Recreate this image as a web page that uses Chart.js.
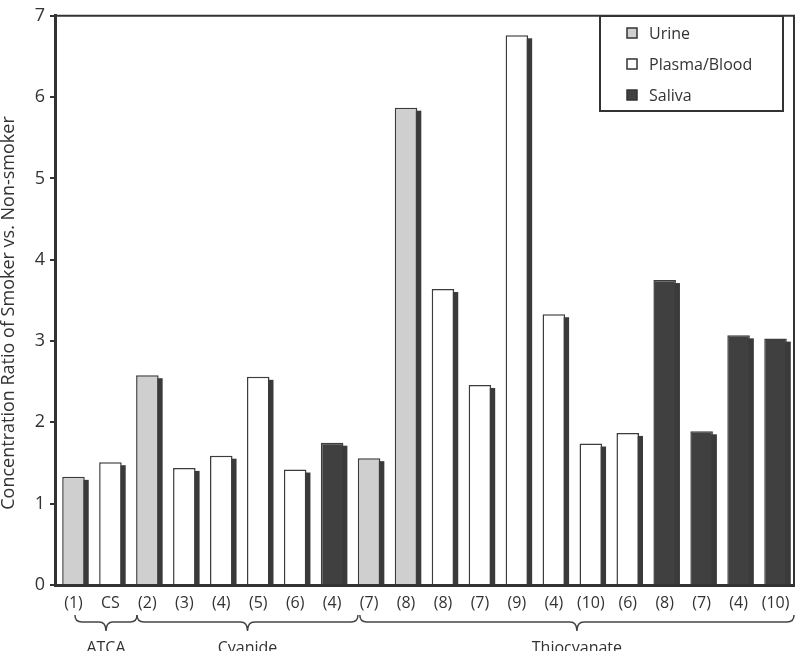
<!DOCTYPE html>
<html>
<head>
<meta charset="utf-8">
<title>Concentration ratio of smoker vs. non-smoker</title>
<script src="https://cdn.jsdelivr.net/npm/chart.js@4.4.1/dist/chart.umd.min.js"></script>
<style>
  html, body { margin: 0; padding: 0; background: #fff; }
  #wrap { width: 800px; height: 651px; position: relative; }
</style>
</head>
<body>
<div id="wrap"><canvas id="ratioChart"></canvas></div>
<script>
// reference numbers under each bar
const categories = ['(1)', 'CS', '(2)', '(3)', '(4)', '(5)', '(6)', '(4)', '(7)', '(8)',
                    '(8)', '(7)', '(9)', '(4)', '(10)', '(6)', '(8)', '(7)', '(4)', '(10)'];

// one value per bar, null where the bar belongs to another matrix
const urine       = [1.33, null, 2.58, null, null, null, null, null, 1.56, 5.87,
                     null, null, null, null, null, null, null, null, null, null];
const plasmaBlood = [null, 1.51, null, 1.44, 1.59, 2.56, 1.42, null, null, null,
                     3.64, 2.46, 6.76, 3.33, 1.74, 1.87, null, null, null, null];
const saliva      = [null, null, null, null, null, null, null, 1.75, null, null,
                     null, null, null, null, null, null, 3.75, 1.89, 3.07, 3.03];

const yTicks = [0, 1, 2, 3, 4, 5, 6, 7];

const groupNames = ['ATCA', 'Cyanide', 'Thiocyanate'];

const FONT = 'Open Sans';
const INK = '#333333';

// dark drop shadow to the right of every bar
const barShadow = {
  id: 'barShadow',
  beforeDatasetsDraw(chart) {
    const { ctx, chartArea } = chart;
    ctx.save();
    ctx.beginPath();
    ctx.rect(chartArea.left, chartArea.top, chartArea.width, chartArea.height);
    ctx.clip();
    ctx.fillStyle = '#3a3a3a';
    chart.data.datasets.forEach((ds, i) => {
      chart.getDatasetMeta(i).data.forEach((bar, j) => {
        if (ds.data[j] == null) return;
        const p = bar.getProps(['x', 'y', 'base', 'width'], true);
        ctx.fillRect(p.x - p.width / 2 + 4, p.y + 3, p.width, p.base - p.y - 3);
      });
    });
    ctx.restore();
  }
};

// top and right edge of the frame, y title, legend box, group braces
const extras = {
  id: 'extras',
  afterDraw(chart, args, opts) {
    const { ctx, chartArea } = chart;
    const x = chart.scales.x;
    const step = x.getPixelForValue(1) - x.getPixelForValue(0);
    const at = v => x.getPixelForValue(0) + v * step;

    ctx.save();
    ctx.strokeStyle = INK;
    ctx.lineWidth = 2;
    ctx.beginPath();
    ctx.moveTo(chartArea.left, chartArea.top);
    ctx.lineTo(chartArea.right, chartArea.top);
    ctx.lineTo(chartArea.right, chartArea.bottom);
    ctx.stroke();

    // axis title
    ctx.save();
    ctx.translate(opts.titleX, opts.titleY);
    ctx.rotate(-Math.PI / 2);
    ctx.fillStyle = INK;
    ctx.font = '18px "' + FONT + '"';
    ctx.textAlign = 'center';
    ctx.textBaseline = 'middle';
    ctx.fillText('Concentration Ratio of Smoker vs. Non-smoker', 0, 0);
    ctx.restore();

    // legend
    const lg = opts.legend;
    ctx.lineWidth = 2;
    ctx.strokeStyle = INK;
    ctx.strokeRect(lg.x, lg.y, lg.w, lg.h);
    ctx.font = '16px "' + FONT + '"';
    ctx.textAlign = 'left';
    ctx.textBaseline = 'middle';
    chart.data.datasets.forEach((ds, i) => {
      const cy = lg.y + lg.first + i * lg.gap;
      ctx.fillStyle = ds.backgroundColor;
      ctx.fillRect(lg.x + 27, cy - 5, 10, 10);
      ctx.lineWidth = 1.5;
      ctx.strokeRect(lg.x + 27, cy - 5, 10, 10);
      ctx.fillStyle = INK;
      ctx.fillText(ds.label, lg.x + 49, cy + 1);
    });

    // braces and group names
    ctx.lineWidth = 1.5;
    ctx.strokeStyle = '#444';
    const top = opts.braceTop, mid = opts.braceTop + 7, bot = opts.braceTop + 16, r = 7;
    groupNames.forEach((name, i) => {
      const x1 = at(opts.braceFrom[i]), x2 = at(opts.braceTo[i]), xm = (x1 + x2) / 2;
      ctx.beginPath();
      ctx.moveTo(x1, top);
      ctx.quadraticCurveTo(x1, mid, x1 + r, mid);
      ctx.lineTo(xm - r, mid);
      ctx.quadraticCurveTo(xm, mid, xm, bot);
      ctx.quadraticCurveTo(xm, mid, xm + r, mid);
      ctx.lineTo(x2 - r, mid);
      ctx.quadraticCurveTo(x2, mid, x2, top);
      ctx.stroke();
      ctx.fillStyle = INK;
      ctx.textAlign = 'center';
      ctx.textBaseline = 'alphabetic';
      ctx.fillText(name, xm, opts.groupBaseline);
    });
    ctx.restore();
  }
};

const ctx = document.getElementById('ratioChart').getContext('2d');
new Chart(ctx, {
  type: 'bar',
  data: {
    labels: categories,
    datasets: [
      { label: 'Urine', data: urine, backgroundColor: '#cfcfd0' },
      { label: 'Plasma/Blood', data: plasmaBlood, backgroundColor: '#ffffff' },
      { label: 'Saliva', data: saliva, backgroundColor: '#404040' }
    ]
  },
  options: {
    responsive: true,
    maintainAspectRatio: false,
    animation: false,
    layout: { padding: { top: 10, right: 6, left: 0, bottom: 0 } },
    datasets: {
      bar: {
        grouped: false,
        categoryPercentage: 1,
        barPercentage: 0.61,
        borderColor: '#3c3c3c',
        borderWidth: 1.5,
        borderSkipped: 'bottom'
      }
    },
    scales: {
      x: {
        ticks: { padding: 1, color: INK, font: { family: FONT, size: 16 }, maxRotation: 0, autoSkip: false },
        grid: { display: false },
        border: { color: INK, width: 3 },
        afterFit(scale) { scale.height = 66; }
      },
      y: {
        min: 0,
        max: 7,
        afterBuildTicks(scale) { scale.ticks = yTicks.map(v => ({ value: v })); },
        ticks: { padding: 5, color: INK, font: { family: FONT, size: 18 } },
        grid: { drawOnChartArea: false, drawTicks: true, tickLength: 5, color: INK, lineWidth: 2 },
        border: { color: INK, width: 3 },
        afterFit(scale) { scale.width = 55; }
      }
    },
    plugins: {
      legend: { display: false },
      tooltip: { enabled: false },
      extras: {
        titleX: 9,
        titleY: 313,
        legend: { x: 600, y: 16, w: 183, h: 95, first: 17, gap: 31 },
        braceTop: 615,
        braceFrom: [0.04, 1.72, 7.75],
        braceTo: [1.72, 7.7, 19.5],
        groupBaseline: 653
      }
    }
  },
  plugins: [barShadow, extras]
});
</script>
</body>
</html>
